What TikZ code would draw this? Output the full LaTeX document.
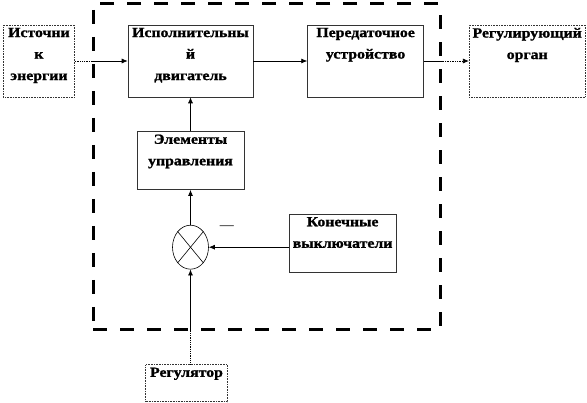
\documentclass[tikz,border=0pt]{standalone}
\usepackage{fontspec}
\setmainfont{Liberation Serif}[BoldFeatures={FakeStretch=1.13,FakeBold=1.3}]
\usetikzlibrary{positioning,arrows.meta,calc,shapes.geometric}

\begin{document}
\begin{tikzpicture}[
    node distance=30pt,
    % blocks: drawn box, text sits at the top inside
    blk/.style={draw=black!80, line width=0.6pt, inner sep=0pt,
                minimum width=116pt, minimum height=72pt},
    blkext/.style={blk, densely dotted},
    txt/.style={anchor=north, align=center, inner sep=3pt,
                font=\fontsize{14}{21.5}\selectfont\bfseries},
    summer/.style={draw, ellipse, line width=0.6pt, inner sep=0pt,
                   minimum width=36pt, minimum height=44pt},
    frame/.style={draw, line width=3pt, dash pattern=on 14pt off 13pt},
    arr/.style={-{Latex[length=6pt,width=5pt]}, line width=0.7pt},
    dotl/.style={densely dotted, line width=0.8pt}
  ]

  \useasboundingbox (0,0) rectangle (587pt,-403pt);

  % ===================== upper row =====================
  \node[blk, minimum width=125pt,
        label={[txt]north:Исполнительны\\й\\двигатель}] (motor) at (190.5pt,-61pt) {};
  \node[blkext, minimum width=71pt, left=53pt of motor,
        label={[txt]north:Источни\\к\\энергии}] (src) {};
  \node[blk, right=54pt of motor,
        label={[txt]north:Передаточное\\устройство}] (gear) {};
  \node[blkext, right=45pt of gear,
        label={[txt]north:Регулирующий\\орган}] (organ) {};

  % ===================== control chain =====================
  \node[blk, minimum width=107pt, minimum height=58pt, below=34pt of motor,
        label={[txt]north:Элементы\\управления}] (ctrl) {};
  \node[summer, below=35pt of ctrl] (sum) {};
  \draw[line width=0.6pt] (sum.north west) -- (sum.south east);
  \draw[line width=0.6pt] (sum.north east) -- (sum.south west);
  \node[blk, minimum width=107pt, minimum height=58pt, right=80pt of sum, yshift=4pt,
        label={[txt]north:Конечные\\выключатели}] (limit) {};
  \node[font=\fontsize{14}{14}\selectfont] (minus) at ($(sum.east)+(18pt,20pt)$) {---};
  \node[blkext, minimum width=82pt, minimum height=37pt, below=95pt of sum, xshift=-4pt,
        label={[txt]north:Регулятор}] (reg) {};

  % dashed boundary of the drive
  \node[frame, minimum width=347pt, minimum height=326pt] (drive) at (266.5pt,-167pt) {};

  % ===================== connectors =====================
  \draw[dotl] (src.east) -- (drive.west |- motor.west);
  \draw[arr]  (drive.west |- motor.west) -- (motor.west);
  \draw[arr]  (motor) -- (gear);
  \draw[line width=0.7pt] (gear.east) -- (drive.east |- gear.east);
  \draw[arr, densely dotted] (drive.east |- gear.east) -- (organ.west);
  \draw[arr]  (ctrl) -- (motor);
  \draw[arr]  (sum) -- (ctrl);
  \draw[arr]  (sum.east -| limit.west) -- (sum.east);
  \draw[dotl] (sum.south |- reg.north) -- (sum.south |- drive.south);
  \draw[arr]  (sum.south |- drive.south) -- (sum.south);

\end{tikzpicture}
\end{document}
